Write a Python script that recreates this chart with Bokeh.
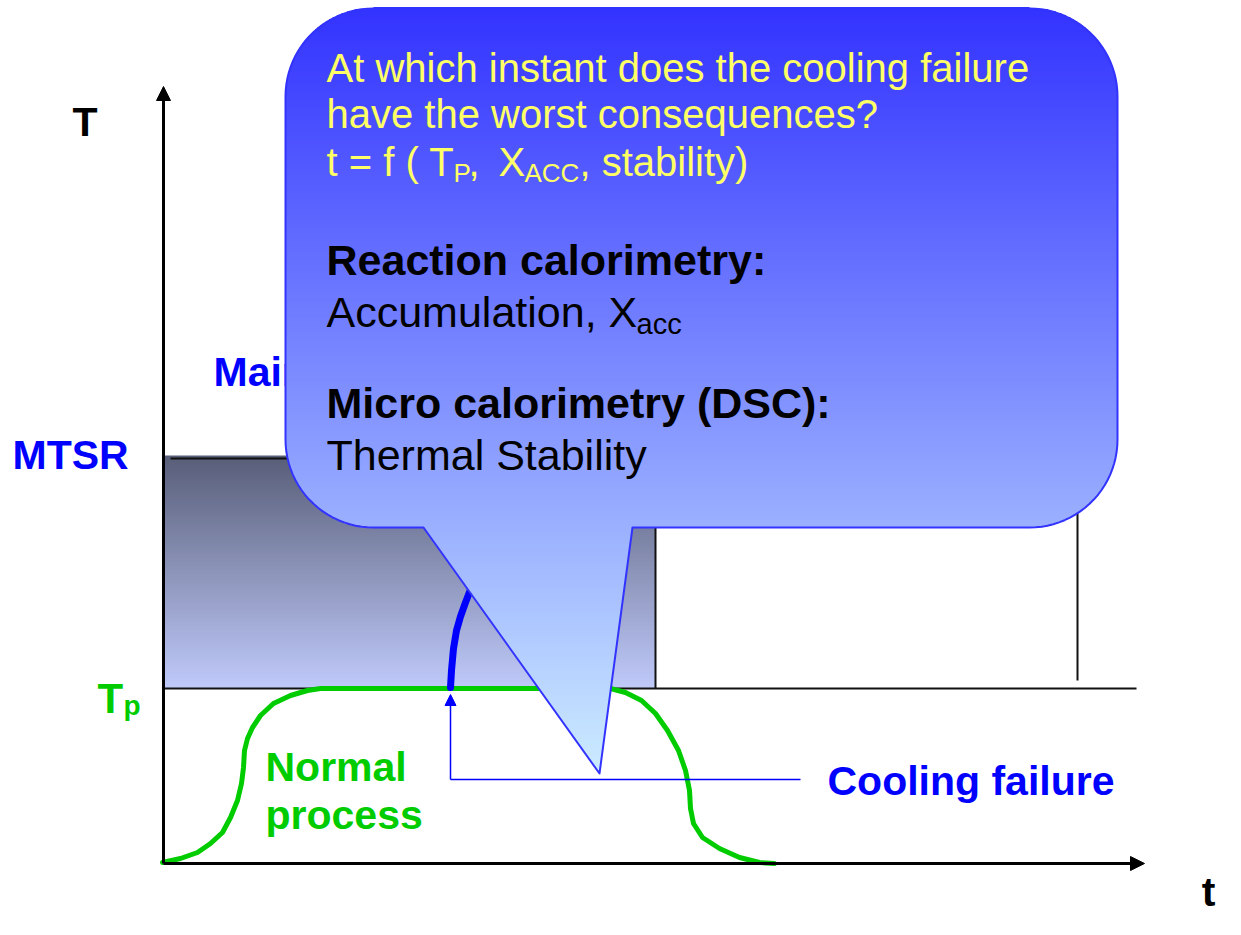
import numpy as np
from bokeh.plotting import figure
from bokeh.models import Range1d, Arrow, NormalHead
from bokeh.core.properties import value
from bokeh.embed import file_html
from bokeh.resources import INLINE

# ---- diagram data (t to the right of the origin, T upwards) ----
T_P = 175            # process temperature
MTSR = 405           # maximum temperature of synthesis reaction
t_AXIS_END = 967
T_AXIS_END = 764
t_FAIL = 287         # instant of the cooling failure
t_DOSE_END = 492     # end of the accumulation zone
t_END = 914          # end of process marker

normal_t = [-1, 17, 34, 47, 59, 67, 74, 78, 80, 81, 84, 89, 97, 110, 127, 144, 157,
            447, 462, 478, 492, 504, 515, 522, 526, 527, 530, 539, 556, 576, 596, 611]
normal_T = [1, 5, 11, 20, 31, 46, 63, 80, 96, 113, 125, 136, 148, 160, 168, 173, 175,
            175, 171, 163, 150, 133, 113, 93, 73, 55, 40, 26, 15, 6, 1, 0]

fail_t = [287, 288, 290, 293, 297, 302, 307, 314]
fail_T = [176, 193, 215, 233, 247, 261, 274, 291]

failure_line_t = [t_FAIL, 637]
failure_line_T = [84, 84]

# callout bubble
B_LEFT, B_RIGHT, B_BOTTOM, B_TOP, B_RADIUS = 122, 954, 336, 855, 88
POINTER_BASE = (260, 469)
POINTER_TIP = (436, 90)

FONT = value("Liberation Sans")
BLUE = "#0000ff"
GREEN = "#00cc00"
YELLOW = "#ffff66"


def lerp(c0, c1, f):
    return "#%02x%02x%02x" % tuple(int(round(a + (b - a) * f)) for a, b in zip(c0, c1))


p = figure(width=1225, height=919, output_backend="svg", toolbar_location=None,
           x_range=Range1d(-163, 1062), y_range=Range1d(-56, 863),
           min_border=0, background_fill_color="white", border_fill_color="white")
p.axis.visible = False
p.grid.visible = False
p.outline_line_color = None

# ---- accumulation zone with vertical gradient ----
rect_top = MTSR + 3
rb = np.arange(T_P, rect_top, 2.0)
rt = np.minimum(rb + 2.6, rect_top)
rc = [lerp((192, 202, 250), (88, 94, 120), (b + 1 - T_P) / (rect_top - T_P)) for b in rb]
p.quad(left=-1, right=t_DOSE_END, bottom=rb, top=rt, fill_color=rc, line_color=None)

# reference lines
p.line([7, t_END], [MTSR, MTSR], line_color="#111111", line_width=2)
p.line([0, 973], [T_P, T_P], line_color="#111111", line_width=2)
p.line([t_DOSE_END, t_DOSE_END], [T_P, rect_top], line_color="#111111", line_width=2)
p.line([t_END, t_END], [183, 420], line_color="#111111", line_width=2)

# ---- curves ----
p.line(normal_t, normal_T, line_color=GREEN, line_width=5, line_join="round", line_cap="round")
p.line(fail_t, fail_T, line_color=BLUE, line_width=7, line_join="round", line_cap="round")
p.line(failure_line_t, failure_line_T, line_color=BLUE, line_width=1.5)

# ---- text labels ----
def label(x, y, txt, size, color, bold=True, align="left"):
    p.text(x=[x], y=[y], text=[txt], text_font=FONT, text_font_size=size,
           text_color=color, text_font_style="bold" if bold else "normal",
           text_baseline="alphabetic", text_align=align)

label(-91, 742, "T", "41px", "#000000")
label(1052, -28, "t", "41px", "#000000", align="right")
label(-151, 409, "MTSR", "41px", BLUE)
label(-66, 165, "T", "42px", GREEN)
label(-40, 158, "p", "28px", GREEN)
label(50, 492, "Main reaction", "41px", BLUE)
label(102, 97, "Normal", "41px", GREEN)
label(102, 49, "process", "41px", GREEN)
label(664, 83, "Cooling failure", "41px", BLUE)

# ---- callout bubble with gradient ----
def bubble_span(y):
    spans = []
    if B_BOTTOM <= y <= B_TOP:
        dx = 0.0
        if y > B_TOP - B_RADIUS:
            dy = y - (B_TOP - B_RADIUS)
            dx = B_RADIUS - np.sqrt(max(B_RADIUS ** 2 - dy ** 2, 0))
        elif y < B_BOTTOM + B_RADIUS:
            dy = (B_BOTTOM + B_RADIUS) - y
            dx = B_RADIUS - np.sqrt(max(B_RADIUS ** 2 - dy ** 2, 0))
        spans.append((B_LEFT + dx, B_RIGHT - dx))
    if POINTER_TIP[1] <= y < B_BOTTOM + 1:
        f = (B_BOTTOM - y) / (B_BOTTOM - POINTER_TIP[1])
        xl = POINTER_BASE[0] + f * (POINTER_TIP[0] - POINTER_BASE[0])
        xr = POINTER_BASE[1] + f * (POINTER_TIP[0] - POINTER_BASE[1])
        spans.append((xl, xr))
    return spans

L, R, Bt, Tp_, C = [], [], [], [], []
for yb in np.arange(POINTER_TIP[1], B_TOP, 2.0):
    ym = yb + 1
    col = lerp((204, 236, 255), (51, 51, 255), (ym - POINTER_TIP[1]) / (B_TOP - POINTER_TIP[1]))
    for a, b in bubble_span(ym):
        L.append(a); R.append(b); Bt.append(yb); Tp_.append(yb + 2.6); C.append(col)
p.quad(left=L, right=R, bottom=Bt, top=Tp_, fill_color=C, line_color=None)

def arc(cx, cy, a0, a1, n=24):
    a = np.radians(np.linspace(a0, a1, n))
    return list(cx + B_RADIUS * np.cos(a)), list(cy + B_RADIUS * np.sin(a))

ox, oy = [B_LEFT + B_RADIUS, POINTER_BASE[0], POINTER_TIP[0], POINTER_BASE[1]], \
         [B_BOTTOM, B_BOTTOM, POINTER_TIP[1], B_BOTTOM]
for cx, cy, a0, a1 in [(B_RIGHT - B_RADIUS, B_BOTTOM + B_RADIUS, -90, 0),
                       (B_RIGHT - B_RADIUS, B_TOP - B_RADIUS, 0, 90),
                       (B_LEFT + B_RADIUS, B_TOP - B_RADIUS, 90, 180),
                       (B_LEFT + B_RADIUS, B_BOTTOM + B_RADIUS, 180, 270)]:
    ax, ay = arc(cx, cy, a0, a1)
    ox += ax; oy += ay
ox.append(ox[0]); oy.append(oy[0])
p.line(ox, oy, line_color="#3333ff", line_width=2, line_join="round")

# callout text
label(163, 796, "At which instant does the cooling failure", "40px", YELLOW, bold=False)
label(163, 750, "have the worst consequences?", "40px", YELLOW, bold=False)
label(163, 702, "t = f ( T", "40px", YELLOW, bold=False)
label(290, 691, "P", "26px", YELLOW, bold=False)
label(305, 702, ",", "40px", YELLOW, bold=False)
label(335, 702, "X", "40px", YELLOW, bold=False)
label(361, 691, "ACC", "26px", YELLOW, bold=False)
label(416, 702, ", stability)", "40px", YELLOW, bold=False)

label(163, 604, "Reaction calorimetry:", "43px", "#000000")
label(163, 552, "Accumulation, X", "43px", "#000000", bold=False)
label(473, 540, "acc", "29px", "#000000", bold=False)
label(163, 461, "Micro calorimetry (DSC):", "43px", "#000000")
label(163, 409, "Thermal Stability", "43px", "#000000", bold=False)

# ---- axes with arrow heads ----
p.add_layout(Arrow(end=NormalHead(size=14, fill_color="#000000", line_color="#000000"),
                   x_start=0, y_start=0, x_end=0, y_end=T_AXIS_END + 13,
                   line_color="#000000", line_width=3))
p.add_layout(Arrow(end=NormalHead(size=14, fill_color="#000000", line_color="#000000"),
                   x_start=0, y_start=0, x_end=t_AXIS_END + 14, y_end=0,
                   line_color="#000000", line_width=3))
p.add_layout(Arrow(end=NormalHead(size=11, fill_color=BLUE, line_color=BLUE),
                   x_start=t_FAIL, y_start=84, x_end=t_FAIL, y_end=169,
                   line_color=BLUE, line_width=1.5))

open("out.html", "w").write(file_html(p, INLINE))
